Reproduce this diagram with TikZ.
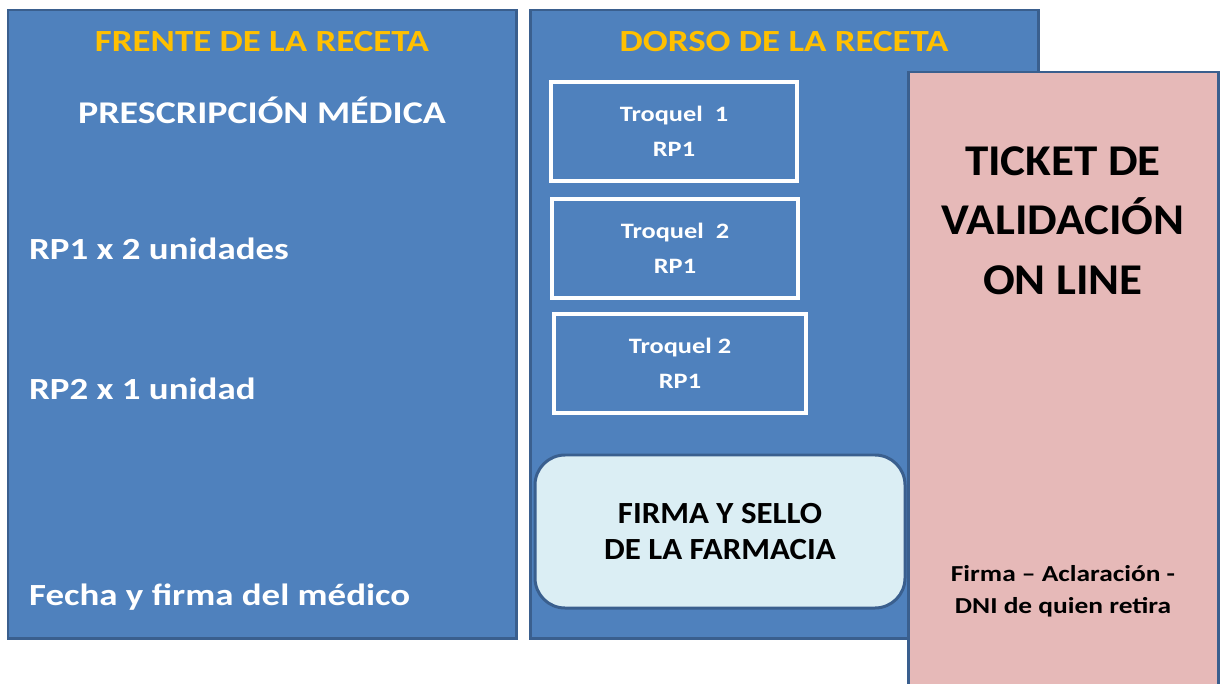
\documentclass[tikz,border=0pt]{standalone}
\usepackage{fontspec}
\setmainfont{Carlito}[FakeStretch=1.2]
\newfontfamily\darkfont{Carlito}[FakeStretch=1.07]
\definecolor{recblue}{HTML}{4F81BD}
\definecolor{recedge}{HTML}{3A5F8E}
\definecolor{recgold}{HTML}{FFC000}
\definecolor{recpink}{HTML}{E6B9B8}
\definecolor{reclight}{HTML}{DBEEF4}

\begin{document}
\begin{tikzpicture}[every node/.style={font=\bfseries},
  panel/.style={draw=recedge, fill=recblue, line width=1.7pt, minimum width=10.16cm, minimum height=12.56cm},
  troquel/.style={draw=white, fill=recblue, line width=2.2pt, minimum width=4.92cm, minimum height=1.98cm, align=center, text=white, font=\bfseries\fontsize{12.5}{20}\selectfont},
  title/.style={text=recgold, font=\bfseries\fontsize{17.5}{21}\selectfont},
  item/.style={text=white, anchor=west, font=\bfseries\fontsize{17.5}{21}\selectfont}]
\useasboundingbox (0,0) rectangle (24.52,-13.66);

\node[panel] (frente) at (5.24,-6.48) {};
\node[panel] (dorso) at (15.68,-6.48) {};
\node[draw=recedge, fill=recpink, line width=1.7pt, minimum width=6.2cm, minimum height=12.36cm] (ticket) at (21.26,-7.62) {};

\node[title] (tfrente) at (5.24,-0.84) {FRENTE DE LA RECETA};
\node[text=white, font=\bfseries\fontsize{18}{21}\selectfont] (presc) at (5.24,-2.2) {PRESCRIPCIÓN MÉDICA};
\node[item] (rp1) at (0.46,-4.98) {RP1 x 2 unidades};
\node[item] (rp2) at (0.46,-7.78) {RP2 x 1 unidad};
\node[item] (fecha) at (0.46,-11.94) {Fecha y firma del médico};

\node[title] (tdorso) at (15.68,-0.84) {DORSO DE LA RECETA};
\node[troquel] (q1) at (13.48,-2.63) {Troquel\ \ 1\\RP1};
\node[troquel] (q2) at (13.5,-4.97) {Troquel\ \ 2\\RP1};
\node[troquel, minimum width=5.04cm] (q3) at (13.6,-7.27) {Troquel 2\\RP1};
\node[draw=recedge, fill=reclight, line width=1.7pt, rounded corners=0.6cm, minimum width=7.4cm, minimum height=3.06cm, align=center, font=\darkfont\bfseries\fontsize{17.5}{21}\selectfont] (sello) at (14.4,-10.63) {FIRMA Y SELLO\\DE LA FARMACIA};

\node[align=center, font=\darkfont\bfseries\fontsize{25}{34}\selectfont] (valid) at (21.26,-4.41) {TICKET DE\\VALIDACIÓN\\ON LINE};
\node[align=center, font=\bfseries\fontsize{13}{18}\selectfont] (retira) at (21.26,-11.82) {Firma – Aclaración -\\DNI de quien retira};
\end{tikzpicture}
\end{document}
